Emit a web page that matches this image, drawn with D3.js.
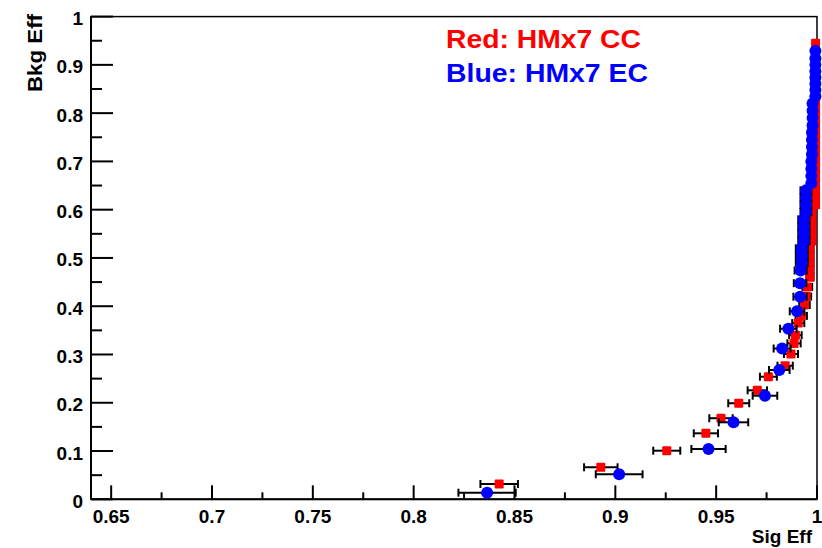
<!DOCTYPE html>
<html>
<head>
<meta charset="utf-8">
<script src="https://cdn.jsdelivr.net/npm/d3@7"></script>
<style>
  html, body { margin: 0; padding: 0; background: #fff; }
  svg { display: block; }
  text { font-family: "Liberation Sans", Arial, Helvetica, sans-serif; font-weight: bold; }
</style>
</head>
<body>
<svg id="chart" width="822" height="548"></svg>
<script>
// Axis ticks and labels
const xTicks = [0.65, 0.7, 0.75, 0.8, 0.85, 0.9, 0.95, 1.0];
const xTickLabels = ["0.65", "0.7", "0.75", "0.8", "0.85", "0.9", "0.95", "1"];
const xMinorTicks = [0.675, 0.725, 0.775, 0.825, 0.875, 0.925, 0.975];
const yTicks = [0, 0.1, 0.2, 0.3, 0.4, 0.5, 0.6, 0.7, 0.8, 0.9, 1.0];
const yTickLabels = ["0", "0.1", "0.2", "0.3", "0.4", "0.5", "0.6", "0.7", "0.8", "0.9", "1"];
const yMinorTicks = [0.05, 0.15, 0.25, 0.35, 0.45, 0.55, 0.65, 0.75, 0.85, 0.95];

// HMx7 CC (red): signal efficiency, background efficiency, signal-efficiency error
const ccSigEff = [0.8424, 0.8928, 0.9255, 0.9449, 0.9524, 0.9612, 0.9704, 0.9759, 0.9842, 0.9871,
  0.9886, 0.9893, 0.9907, 0.9922, 0.9938, 0.9946, 0.9952,
  0.9965, 0.9965, 0.9965, 0.9965, 0.9965, 0.9975, 0.9975, 0.9975, 0.9975, 0.9975,
  0.9993, 0.9993, 0.9993, 0.9993, 0.9993, 0.9993, 0.9993, 0.9993, 0.9993, 0.9993, 0.9993, 0.9993,
  0.9993, 0.9993, 0.9993, 0.9993, 0.9993, 0.9993, 0.9993, 0.9993, 0.9993, 0.9993, 0.9993];
const ccBkgEff = [0.0317, 0.0663, 0.1007, 0.1367, 0.168, 0.199, 0.2258, 0.254, 0.2768, 0.301,
  0.323, 0.34, 0.365, 0.38, 0.4025, 0.42, 0.44,
  0.46, 0.475, 0.49, 0.505, 0.52, 0.535, 0.55, 0.565, 0.58, 0.595,
  0.61, 0.625, 0.64, 0.655, 0.67, 0.685, 0.70, 0.715, 0.73, 0.745, 0.76, 0.775,
  0.79, 0.805, 0.82, 0.835, 0.85, 0.865, 0.88, 0.895, 0.91, 0.925, 0.945];
const ccSigErr = [0.0093, 0.0083, 0.0067, 0.006, 0.0058, 0.0052, 0.0048, 0.0042, 0.0038, 0.0035,
  0.0033, 0.0031, 0.003, 0.0028, 0.0026, 0.0025, 0.0024,
  0.0018, 0.0018, 0.0018, 0.0018, 0.0018, 0.0016, 0.0016, 0.0016, 0.0016, 0.0016,
  0.0006, 0.0006, 0.0006, 0.0006, 0.0006, 0.0006, 0.0006, 0.0006, 0.0006, 0.0006, 0.0006, 0.0006,
  0.0006, 0.0006, 0.0006, 0.0006, 0.0006, 0.0006, 0.0006, 0.0006, 0.0006, 0.0006, 0.0006];

// HMx7 EC (blue)
const ecSigEff = [0.8364, 0.9019, 0.9462, 0.9586, 0.9742, 0.9813, 0.9827, 0.9858, 0.9901, 0.9916,
  0.9916, 0.9919,
  0.9925, 0.9925, 0.9925, 0.9935, 0.9935, 0.9935, 0.9935, 0.9945, 0.9945, 0.9945, 0.9945,
  0.9972, 0.9972, 0.9972, 0.9972, 0.9975, 0.9975, 0.9975, 0.9975, 0.9978, 0.9978, 0.9978, 0.9978,
  0.9992, 0.9992, 0.9992, 0.9992, 0.9992, 0.9992, 0.9992, 0.9992];
const ecBkgEff = [0.0137, 0.0518, 0.1042, 0.1595, 0.2146, 0.2679, 0.3124, 0.3534, 0.3895, 0.4197,
  0.4477, 0.474,
  0.49, 0.505, 0.52, 0.535, 0.55, 0.565, 0.58, 0.595, 0.61, 0.625, 0.64,
  0.655, 0.67, 0.685, 0.70, 0.715, 0.73, 0.745, 0.76, 0.775, 0.79, 0.805, 0.82,
  0.835, 0.848, 0.861, 0.874, 0.887, 0.9, 0.913, 0.929];
const ecSigErr = [0.0142, 0.0116, 0.0085, 0.0073, 0.0061, 0.0051, 0.0042, 0.0041, 0.0036, 0.0033,
  0.0031, 0.003,
  0.003, 0.003, 0.003, 0.0028, 0.0028, 0.0028, 0.0028, 0.0027, 0.0027, 0.0027, 0.0027,
  0.0015, 0.0015, 0.0015, 0.0015, 0.0015, 0.0015, 0.0015, 0.0015, 0.0015, 0.0015, 0.0015, 0.0015,
  0.0008, 0.0008, 0.0008, 0.0008, 0.0008, 0.0008, 0.0008, 0.0008];

const svg = d3.select("#chart");
const frame = { left: 91, right: 817, top: 16.6, bottom: 499.3 };

const x = d3.scaleLinear().domain([0.64, 1.0]).range([frame.left, frame.right]);
const y = d3.scaleLinear().domain([0, 1.0]).range([frame.bottom, frame.top]);

// Frame
svg.append("rect")
  .attr("x", frame.left).attr("y", frame.top)
  .attr("width", frame.right - frame.left).attr("height", frame.bottom - frame.top)
  .attr("fill", "none").attr("stroke", "#000").attr("stroke-width", 1.5);

// X axis (ticks point into the frame)
const gx = svg.append("g");
gx.append("line").attr("x1", frame.left).attr("x2", frame.right)
  .attr("y1", frame.bottom).attr("y2", frame.bottom)
  .attr("stroke", "#000").attr("stroke-width", 2);
gx.selectAll("line.major").data(xTicks).join("line").attr("class", "major")
  .attr("x1", d => x(d)).attr("x2", d => x(d))
  .attr("y1", frame.bottom).attr("y2", frame.bottom - 14)
  .attr("stroke", "#000").attr("stroke-width", 2);
gx.selectAll("line.minor").data(xMinorTicks).join("line").attr("class", "minor")
  .attr("x1", d => x(d)).attr("x2", d => x(d))
  .attr("y1", frame.bottom).attr("y2", frame.bottom - 7)
  .attr("stroke", "#000").attr("stroke-width", 2);
gx.selectAll("text").data(xTicks).join("text")
  .attr("x", d => x(d)).attr("y", frame.bottom + 24)
  .attr("text-anchor", "middle").attr("font-size", 19).attr("fill", "#000")
  .text((d, i) => xTickLabels[i]);

// Y axis
const gy = svg.append("g");
gy.append("line").attr("x1", frame.left).attr("x2", frame.left)
  .attr("y1", frame.top).attr("y2", frame.bottom)
  .attr("stroke", "#000").attr("stroke-width", 2);
gy.selectAll("line.major").data(yTicks).join("line").attr("class", "major")
  .attr("x1", frame.left).attr("x2", frame.left + 22)
  .attr("y1", d => y(d)).attr("y2", d => y(d))
  .attr("stroke", "#000").attr("stroke-width", 2);
gy.selectAll("line.minor").data(yMinorTicks).join("line").attr("class", "minor")
  .attr("x1", frame.left).attr("x2", frame.left + 11)
  .attr("y1", d => y(d)).attr("y2", d => y(d))
  .attr("stroke", "#000").attr("stroke-width", 2);
gy.selectAll("text").data(yTicks).join("text")
  .attr("x", 83).attr("y", d => y(d) + 8.5)
  .attr("text-anchor", "end").attr("font-size", 19).attr("fill", "#000")
  .text((d, i) => yTickLabels[i]);

// Axis titles
svg.append("text").attr("x", 812).attr("y", 543)
  .attr("text-anchor", "end").attr("font-size", 19).attr("fill", "#000")
  .text("Sig Eff");
svg.append("text")
  .attr("transform", "translate(42,92) rotate(-90)")
  .attr("text-anchor", "start").attr("font-size", 20.5).attr("fill", "#000")
  .attr("textLength", 78).attr("lengthAdjust", "spacingAndGlyphs")
  .text("Bkg Eff");

// Data series with horizontal error bars
function drawSeries(sig, bkg, err, color, marker) {
  const pts = sig.map((s, i) => ({ s, b: bkg[i], e: err[i] }));
  const g = svg.append("g");
  const eb = g.append("g").attr("stroke", "#000").attr("stroke-width", 2);
  eb.selectAll("line.bar").data(pts).join("line").attr("class", "bar")
    .attr("x1", d => x(d.s - d.e)).attr("x2", d => x(d.s + d.e))
    .attr("y1", d => y(d.b)).attr("y2", d => y(d.b));
  eb.selectAll("line.capl").data(pts).join("line").attr("class", "capl")
    .attr("x1", d => x(d.s - d.e)).attr("x2", d => x(d.s - d.e))
    .attr("y1", d => y(d.b) - 4).attr("y2", d => y(d.b) + 4);
  eb.selectAll("line.capr").data(pts).join("line").attr("class", "capr")
    .attr("x1", d => x(d.s + d.e)).attr("x2", d => x(d.s + d.e))
    .attr("y1", d => y(d.b) - 4).attr("y2", d => y(d.b) + 4);
  if (marker === "square") {
    g.selectAll("rect").data(pts).join("rect")
      .attr("x", d => x(d.s) - 4.5).attr("y", d => y(d.b) - 4.5)
      .attr("width", 9).attr("height", 9).attr("rx", 1)
      .attr("fill", color);
  } else {
    g.selectAll("circle").data(pts).join("circle")
      .attr("cx", d => x(d.s)).attr("cy", d => y(d.b)).attr("r", 6)
      .attr("fill", color);
  }
}
drawSeries(ccSigEff, ccBkgEff, ccSigErr, "#ff0000", "square");
drawSeries(ecSigEff, ecBkgEff, ecSigErr, "#0000ff", "circle");

// Legend text
svg.append("text").attr("x", 446).attr("y", 48)
  .attr("font-size", 25.5).attr("fill", "#ff0000")
  .attr("textLength", 195).attr("lengthAdjust", "spacingAndGlyphs")
  .text("Red: HMx7 CC");
svg.append("text").attr("x", 446).attr("y", 81.7)
  .attr("font-size", 25.5).attr("fill", "#0000ff")
  .attr("textLength", 202).attr("lengthAdjust", "spacingAndGlyphs")
  .text("Blue: HMx7 EC");
</script>
</body>
</html>
